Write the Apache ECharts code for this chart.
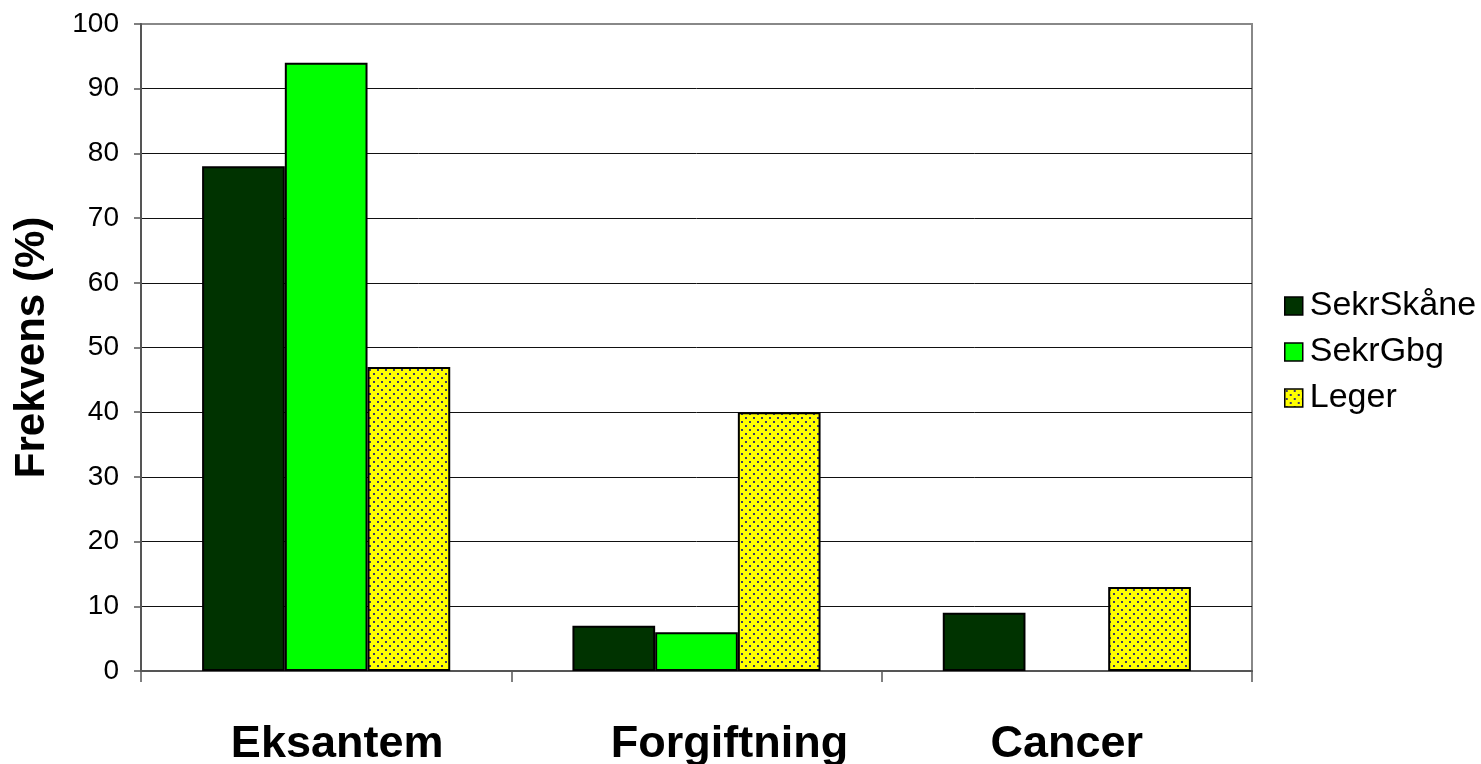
<!DOCTYPE html>
<html>
<head>
<meta charset="utf-8">
<script src="https://cdn.jsdelivr.net/npm/echarts@6/dist/echarts.min.js"></script>
<style>
  html, body { margin: 0; padding: 0; background: #fff; }
  #chart { width: 1481px; height: 764px; }
</style>
</head>
<body>
<div id="chart"></div>
<script>
// Categories and series values (percent)
const categories = ['Eksantem', 'Forgiftning', 'Cancer'];
const sekrSkane = [78, 7, 9];
const sekrGbg = [94, 6, 0];
const leger = [47, 40, 13];
const seriesNames = ['SekrSkåne', 'SekrGbg', 'Leger'];
const yTicks = { min: 0, max: 100, interval: 10 };

// Horizontal nudge of each category label (px, left padding)
const labelShift = [22, 66, 0];

// Dotted yellow fill: staggered navy dots on yellow
function dotPattern() {
  const c = document.createElement('canvas');
  c.width = 8; c.height = 8;
  const g = c.getContext('2d');
  g.fillStyle = '#ffff00';
  g.fillRect(0, 0, 8, 8);
  g.fillStyle = '#3b3b66';
  g.fillRect(1, 1, 2, 2);
  g.fillRect(5, 5, 2, 2);
  return c;
}

// Zero-height bars get no outline so they stay invisible
function barData(values) {
  return values.map(v => v === 0 ? { value: v, itemStyle: { borderWidth: 0 } } : v);
}

const chart = echarts.init(document.getElementById('chart'), null, { renderer: 'canvas' });
const font = 'Liberation Sans, Arial, sans-serif';
const border = { borderColor: '#000', borderWidth: 2 };

const catRich = {};
labelShift.forEach((s, i) => {
  catRich['c' + i] = {
    fontFamily: font, fontWeight: 'bold', fontSize: 45, color: '#000',
    padding: [0, 0, 0, s]
  };
});

chart.setOption({
  animation: false,
  backgroundColor: '#fff',
  grid: {
    left: 141, right: 229, top: 24, bottom: 93,
    outerBoundsMode: 'none', containLabel: false,
    show: true, borderColor: '#888', borderWidth: 2, backgroundColor: 'transparent'
  },
  legend: {
    orient: 'vertical',
    left: 1279, top: 284,
    itemWidth: 18, itemHeight: 18, itemGap: 12,
    icon: 'rect',
    textStyle: { fontFamily: font, fontSize: 34, color: '#000', padding: [0, 0, 0, 2] },
    itemStyle: { borderColor: '#000', borderWidth: 1.5 },
    data: seriesNames
  },
  xAxis: {
    type: 'category',
    data: categories,
    axisLine: { lineStyle: { color: '#555', width: 2 } },
    axisTick: { show: true, length: 11, lineStyle: { color: '#555', width: 1.5 } },
    axisLabel: {
      margin: 51,
      formatter: (v, i) => '{c' + i + '|' + v + '}',
      rich: catRich
    }
  },
  yAxis: {
    type: 'value',
    min: yTicks.min, max: yTicks.max, interval: yTicks.interval,
    name: 'Frekvens (%)',
    nameLocation: 'middle',
    nameGap: 88,
    nameTextStyle: { fontFamily: font, fontWeight: 'bold', fontSize: 42, color: '#000' },
    axisLine: { show: true, lineStyle: { color: '#555', width: 2 } },
    axisTick: { show: true, length: 7, lineStyle: { color: '#555', width: 1.5 } },
    axisLabel: { fontFamily: font, fontSize: 28, color: '#000', margin: 22 },
    splitLine: { show: true, showMaxLine: false, showMinLine: false, lineStyle: { color: '#111', width: 1 } }
  },
  series: [
    { name: seriesNames[0], type: 'bar', data: barData(sekrSkane), barGap: '0%', barCategoryGap: '33%',
      itemStyle: Object.assign({ color: '#003300' }, border) },
    { name: seriesNames[1], type: 'bar', data: barData(sekrGbg), barGap: '0%', barCategoryGap: '33%',
      itemStyle: Object.assign({ color: '#00ff00' }, border) },
    { name: seriesNames[2], type: 'bar', data: barData(leger), barGap: '0%', barCategoryGap: '33%',
      itemStyle: Object.assign({ color: { image: dotPattern(), repeat: 'repeat' } }, border) }
  ]
});
</script>
</body>
</html>
